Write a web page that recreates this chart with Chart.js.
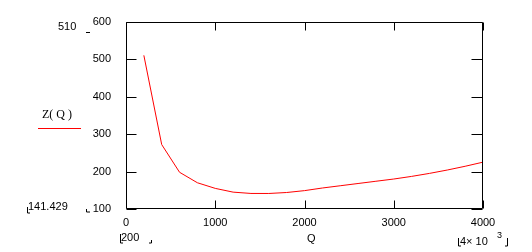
<!DOCTYPE html>
<html>
<head>
<meta charset="utf-8">
<script src="https://cdn.jsdelivr.net/npm/chart.js@4/dist/chart.umd.min.js"></script>
<style>
html,body{margin:0;padding:0;background:#fff;}
#wrap{width:532px;height:252px;}
</style>
</head>
<body>
<div id="wrap"><canvas id="c" width="532" height="252"></canvas></div>
<script>
const qValues = [200,400,600,800,1000,1200,1400,1600,1800,2000,2200,2400,2600,2800,3000,3200,3400,3600,3800,4000];
const zValues = [510,272,198,170,155,145,141.5,141.4,144,149,156,162,168,174,180,187,195,204,214,225];
const xTickValues = [0,1000,2000,3000,4000];
const yTickValues = [100,200,300,400,500,600];
const seriesLabel = "Z( Q )";
const xTitle = "Q";
const yMaxLabel = "510";
const yMinLabel = "141.429";
const xMinLabel = "200";
const xMaxLabel = "4\u00d7 10";
const xMaxExp = "3";

const FONT = '11px "Liberation Sans", Arial, sans-serif';

const decor = {
  id: 'decor',
  afterDraw(chart) {
    const ctx = chart.ctx;
    const a = chart.chartArea;
    const xs = chart.scales.x, ys = chart.scales.y;
    ctx.save();
    ctx.strokeStyle = '#000';
    ctx.lineWidth = 1;
    const L = Math.round(a.left) + 0.5, R = Math.round(a.right) - 0.5;
    const T = Math.round(a.top) + 0.5, B = Math.round(a.bottom) - 0.5;
    ctx.beginPath();
    ctx.rect(L, T, R - L, B - T);
    ctx.stroke();
    ctx.beginPath();
    xTickValues.forEach(v => {
      const px = Math.round(xs.getPixelForValue(v)) + 0.5;
      ctx.moveTo(px, B); ctx.lineTo(px, B - 8);
      ctx.moveTo(px, T); ctx.lineTo(px, T + 8);
    });
    yTickValues.forEach(v => {
      const py = Math.round(ys.getPixelForValue(v)) + 0.5;
      ctx.moveTo(L, py); ctx.lineTo(L + 10, py);
      ctx.moveTo(R, py); ctx.lineTo(R - 11, py);
    });
    ctx.stroke();
    ctx.fillStyle = '#000';
    ctx.font = FONT;
    ctx.textBaseline = 'middle';
    ctx.textAlign = 'left';
    ctx.fillText(yMaxLabel, 58, 27);
    ctx.fillText(yMinLabel, 28, 207);
    ctx.fillText(xMinLabel, 121, 238);
    ctx.fillText(xTitle, 307, 239);
    ctx.fillText(xMaxLabel, 460, 242);
    ctx.font = '9px "Liberation Sans", Arial, sans-serif';
    ctx.fillText(xMaxExp, 497, 236);
    ctx.font = '12px "Liberation Serif", "Times New Roman", serif';
    ctx.fillText(seriesLabel, 42, 115);
    ctx.strokeStyle = '#ff0000';
    ctx.beginPath();
    ctx.moveTo(38, 128.5); ctx.lineTo(81, 128.5);
    ctx.stroke();
    ctx.strokeStyle = '#000';
    ctx.beginPath();
    ctx.moveTo(86, 32.5); ctx.lineTo(90, 32.5);
    ctx.moveTo(27.5, 207); ctx.lineTo(27.5, 213); ctx.lineTo(30, 213);
    ctx.moveTo(86.5, 209); ctx.lineTo(86.5, 212); ctx.lineTo(90, 212);
    ctx.moveTo(120.5, 234); ctx.lineTo(120.5, 243); ctx.lineTo(123, 243);
    ctx.moveTo(151.5, 240); ctx.lineTo(151.5, 243); ctx.lineTo(149, 243);
    ctx.moveTo(458.5, 238); ctx.lineTo(458.5, 246); ctx.lineTo(461, 246);
    ctx.moveTo(507.5, 238); ctx.lineTo(507.5, 246); ctx.lineTo(505, 246);
    ctx.stroke();
    ctx.restore();
  }
};

new Chart(document.getElementById('c'), {
  type: 'line',
  data: {
    datasets: [{
      label: seriesLabel,
      data: qValues.map((q, i) => ({x: q, y: zValues[i]})),
      borderColor: '#ff0000',
      borderWidth: 1,
      pointRadius: 0,
      tension: 0,
      fill: false
    }]
  },
  options: {
    responsive: false,
    animation: false,
    devicePixelRatio: 1,
    layout: {padding: {top: 18, right: 49, left: 0, bottom: 0}},
    plugins: {legend: {display: false}, tooltip: {enabled: false}},
    scales: {
      x: {
        type: 'linear', min: 0, max: 4000,
        afterBuildTicks: s => { s.ticks = xTickValues.map(v => ({value: v})); },
        ticks: {color: '#000', font: {family: '"Liberation Sans", Arial, sans-serif', size: 11}, padding: 7, maxRotation: 0, autoSkip: false, callback: v => String(v)},
        grid: {display: false, drawTicks: false},
        border: {display: false},
        afterFit: s => { s.height = 43; }
      },
      y: {
        type: 'linear', min: 100, max: 600,
        afterBuildTicks: s => { s.ticks = yTickValues.map(v => ({value: v})); },
        ticks: {color: '#000', font: {family: '"Liberation Sans", Arial, sans-serif', size: 11}, padding: 15, autoSkip: false, callback: v => String(v)},
        grid: {display: false, drawTicks: false},
        border: {display: false},
        afterFit: s => { s.width = 126; }
      }
    }
  },
  plugins: [decor]
});
</script>
</body>
</html>
